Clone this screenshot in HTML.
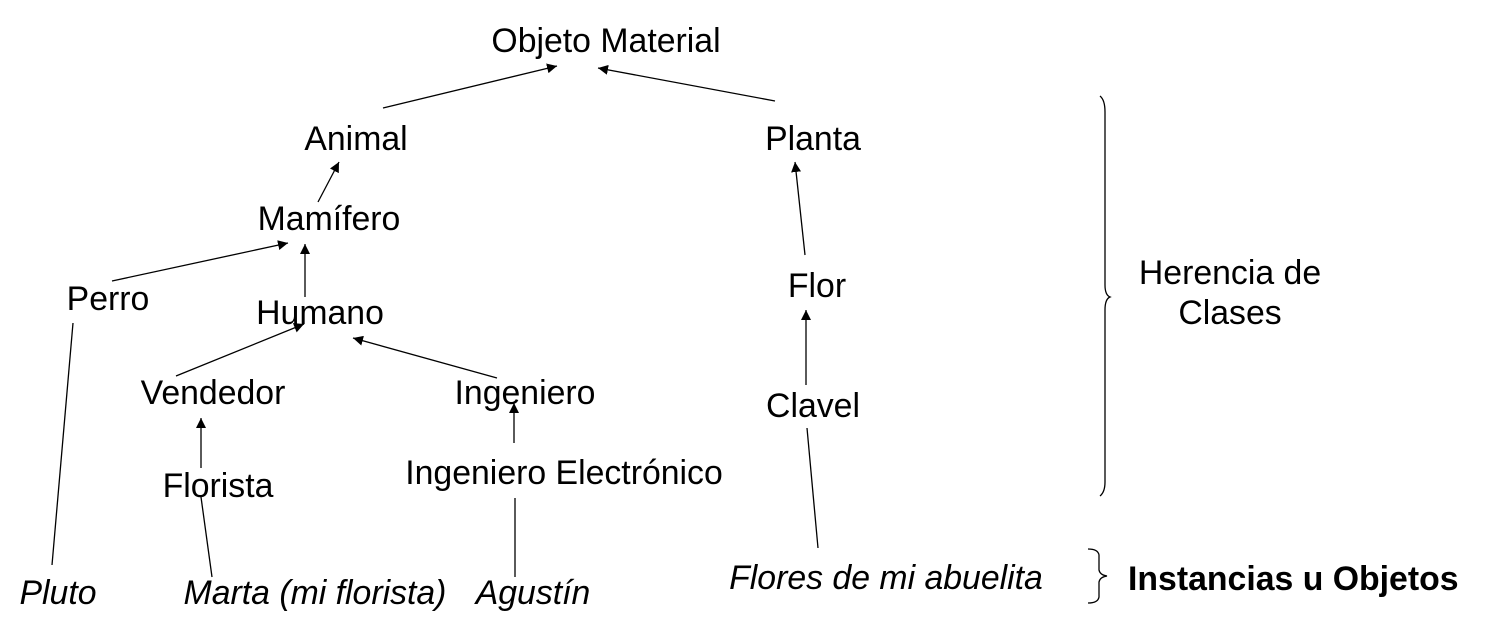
<!DOCTYPE html>
<html><head><meta charset="utf-8"><style>
html,body{margin:0;padding:0;background:#fff;}
svg{display:block;}
text{font-family:"Liberation Sans",sans-serif;font-size:33.8px;fill:#000;}
.i{font-style:italic;}
</style></head><body>
<svg width="1485" height="640" viewBox="0 0 1485 640">
<defs><marker id="a" viewBox="0 0 10 10" refX="10" refY="5" markerWidth="10" markerHeight="10" markerUnits="userSpaceOnUse" orient="auto"><path d="M0,0 L10,5 L0,10 z" fill="#000"/></marker></defs>
<g stroke="#000" stroke-width="1.3" fill="none">
<line x1="383" y1="108" x2="557" y2="66" marker-end="url(#a)"/>
<line x1="775" y1="101" x2="598" y2="68" marker-end="url(#a)"/>
<line x1="318" y1="202" x2="339" y2="162" marker-end="url(#a)"/>
<line x1="112" y1="281" x2="288" y2="243" marker-end="url(#a)"/>
<line x1="305" y1="297" x2="305" y2="244" marker-end="url(#a)"/>
<line x1="176" y1="376" x2="304" y2="324" marker-end="url(#a)"/>
<line x1="497" y1="378" x2="353" y2="338" marker-end="url(#a)"/>
<line x1="514" y1="443" x2="514" y2="403" marker-end="url(#a)"/>
<line x1="201" y1="468" x2="201" y2="418" marker-end="url(#a)"/>
<line x1="805" y1="255" x2="795" y2="162" marker-end="url(#a)"/>
<line x1="806" y1="385" x2="806" y2="310" marker-end="url(#a)"/>
<line x1="73" y1="323" x2="52" y2="565"/>
<line x1="201" y1="497" x2="212" y2="577"/>
<line x1="515" y1="498" x2="515" y2="577"/>
<line x1="807" y1="428" x2="818" y2="548"/>
<path d="M1100,96 Q1105,100 1105,112 L1105,285 Q1105,295 1110,297 Q1105,299 1105,310 L1105,482 Q1105,492 1100,496"/>
<path d="M1088,549 Q1098,549 1099,555 L1099,570 Q1100,575 1107,576 Q1100,577 1099,582 L1099,597 Q1098,603 1088,603"/>
</g>
<g text-anchor="middle">
<text x="606" y="52">Objeto Material</text>
<text x="356" y="150">Animal</text>
<text x="813" y="150">Planta</text>
<text x="329" y="230">Mamífero</text>
<text x="108" y="310">Perro</text>
<text x="320" y="324">Humano</text>
<text x="213" y="404">Vendedor</text>
<text x="525" y="404">Ingeniero</text>
<text x="817" y="297">Flor</text>
<text x="813" y="417">Clavel</text>
<text x="564" y="484">Ingeniero Electrónico</text>
<text x="218" y="497">Florista</text>
<text class="i" x="58" y="604">Pluto</text>
<text class="i" x="315" y="604">Marta (mi florista)</text>
<text class="i" x="533" y="604">Agustín</text>
<text class="i" x="886" y="589">Flores de mi abuelita</text>
<text x="1230" y="284">Herencia de</text>
<text x="1230" y="324">Clases</text>
</g>
<text x="1128" y="590" font-weight="bold">Instancias u Objetos</text>
</svg>
</body></html>
